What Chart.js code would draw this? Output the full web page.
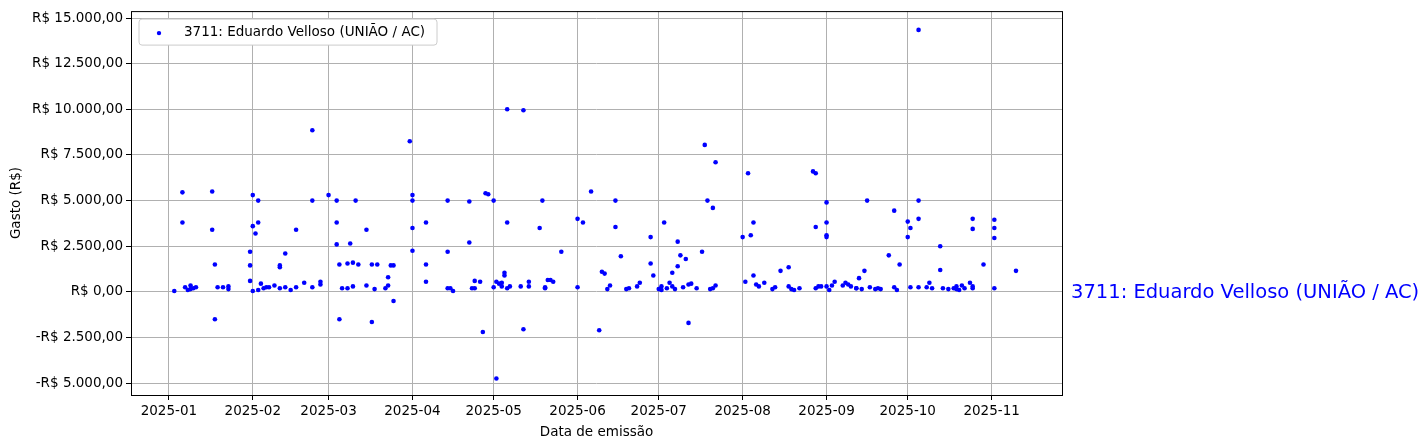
<!DOCTYPE html>
<html><head><meta charset="utf-8">
<script src="https://cdn.jsdelivr.net/npm/chart.js@4"></script>
<style>body{margin:0;background:#fff}</style></head>
<body><canvas id="c" width="1428" height="448"></canvas>
<script>
const seriesName = "3711: Eduardo Velloso (UNIÃO / AC)";
const dates = ["2025-01-03","2025-01-06","2025-01-06","2025-01-07","2025-01-08","2025-01-09","2025-01-09","2025-01-10","2025-01-11","2025-01-17","2025-01-17","2025-01-18","2025-01-18","2025-01-19","2025-01-21","2025-01-23","2025-01-23",
"2025-01-31","2025-01-31","2025-01-31","2025-02-01","2025-02-01","2025-02-01","2025-02-02","2025-02-03","2025-02-03","2025-02-03","2025-02-04","2025-02-05","2025-02-06","2025-02-07","2025-02-09","2025-02-11","2025-02-11","2025-02-11","2025-02-13","2025-02-13","2025-02-15","2025-02-17","2025-02-17","2025-02-20","2025-02-23","2025-02-23","2025-02-23","2025-02-26","2025-02-26","2025-03-01",
"2025-03-04","2025-03-04","2025-03-04","2025-03-05","2025-03-05","2025-03-06","2025-03-08","2025-03-08","2025-03-09","2025-03-10","2025-03-10","2025-03-11","2025-03-12","2025-03-15","2025-03-15","2025-03-17","2025-03-17","2025-03-18","2025-03-19","2025-03-22","2025-03-23","2025-03-23","2025-03-24","2025-03-25","2025-03-25","2025-03-31","2025-04-01","2025-04-01","2025-04-01","2025-04-01",
"2025-04-06","2025-04-06","2025-04-06","2025-04-14","2025-04-14","2025-04-14","2025-04-15","2025-04-16","2025-04-22","2025-04-22","2025-04-23","2025-04-24","2025-04-24","2025-04-26","2025-04-27","2025-04-28","2025-04-29","2025-05-02",
"2025-05-01","2025-05-01","2025-05-02","2025-05-03","2025-05-04","2025-05-04","2025-05-05","2025-05-05","2025-05-06","2025-05-06","2025-05-06","2025-05-07","2025-05-11","2025-05-12","2025-05-12","2025-05-14","2025-05-14","2025-05-18","2025-05-19","2025-05-20","2025-05-20","2025-05-21","2025-05-22","2025-05-23","2025-05-26",
"2025-06-01","2025-06-01","2025-06-03","2025-06-06","2025-06-09","2025-06-10","2025-06-11","2025-06-12","2025-06-13","2025-06-15","2025-06-15","2025-06-17","2025-06-19","2025-06-20","2025-06-23","2025-06-24","2025-06-28","2025-06-28","2025-06-29",
"2025-07-01","2025-07-02","2025-07-02","2025-07-03","2025-07-04","2025-07-05","2025-07-06","2025-07-06","2025-07-07","2025-07-08","2025-07-08","2025-07-09","2025-07-10","2025-07-11","2025-07-12","2025-07-12","2025-07-13","2025-07-15","2025-07-17","2025-07-18","2025-07-19","2025-07-20","2025-07-21","2025-07-22","2025-07-21","2025-07-22",
"2025-08-01","2025-08-02","2025-08-03","2025-08-04","2025-08-05","2025-08-05","2025-08-06","2025-08-07","2025-08-09","2025-08-12","2025-08-13","2025-08-15","2025-08-18","2025-08-18","2025-08-19","2025-08-20","2025-08-22","2025-08-27","2025-08-28","2025-08-28","2025-08-28","2025-08-29","2025-08-30","2025-09-01","2025-09-01","2025-09-01","2025-09-01","2025-09-01","2025-09-02",
"2025-09-03","2025-09-04","2025-09-07","2025-09-08","2025-09-09","2025-09-10","2025-09-12","2025-09-12","2025-09-13","2025-09-14","2025-09-15","2025-09-16","2025-09-17","2025-09-19","2025-09-20","2025-09-21","2025-09-24","2025-09-26","2025-09-26","2025-09-27","2025-09-28","2025-10-01","2025-10-01","2025-10-02","2025-10-02",
"2025-10-05","2025-10-05","2025-10-05","2025-10-05","2025-10-08","2025-10-09","2025-10-10","2025-10-13","2025-10-13","2025-10-14","2025-10-16","2025-10-18","2025-10-19","2025-10-19","2025-10-20","2025-10-21","2025-10-22","2025-10-24","2025-10-25","2025-10-25","2025-10-25","2025-10-25","2025-10-29","2025-11-02","2025-11-02","2025-11-02","2025-11-02","2025-11-10"];
const values = [50,5450,3800,250,100,350,150,200,250,5500,3400,1500,-1500,250,250,150,300,
600,1450,2200,5300,50,3600,3200,5000,3800,100,450,200,250,250,350,200,1450,1350,2100,250,100,3400,250,500,250,8850,5000,550,400,5300,
5000,3800,2600,1500,-1500,200,200,1550,2650,1600,300,5000,1500,3400,350,1500,-1650,150,1500,200,350,800,1450,1450,-500,8250,5300,5000,3500,2250,
1500,3800,550,5000,2200,200,200,50,4950,2700,200,600,200,550,-2200,5400,5350,-4750,
250,5000,550,450,300,500,1050,900,10000,3800,200,300,300,9950,-2050,550,300,3500,5000,200,250,650,650,550,2200,
250,4000,3800,5500,-2100,1100,1000,150,350,5000,3550,1950,150,200,300,500,3000,1550,900,
150,300,100,3800,200,500,300,1050,150,2750,1400,2000,250,1800,-1700,400,450,200,2200,8050,5000,150,200,7100,4600,350,
3000,550,6500,3100,3800,900,400,300,500,150,250,1150,1350,300,150,100,200,6600,6500,3550,200,300,300,3100,3000,4900,3800,300,100,
350,550,350,500,400,300,200,200,750,150,1150,5000,250,150,200,150,2000,4450,250,100,1500,3000,3850,3500,250,
14350,5000,4000,250,250,500,200,2500,1200,200,150,200,300,150,100,350,200,500,4000,3450,300,200,1500,2950,3950,3500,200,1150];
const yTicks = [-5000,-2500,0,2500,5000,7500,10000,12500,15000];
const xTickLabels = ["2025-01","2025-02","2025-03","2025-04","2025-05","2025-06","2025-07","2025-08","2025-09","2025-10","2025-11"];

const toMs = s => { const [y,m,d]=s.split('-').map(Number); return Date.UTC(y,m-1,d); };
const pts = dates.map((d,i)=>({x:toMs(d), y:values[i]}));
const xTickMs = xTickLabels.map(l=>toMs(l+"-01"));
const fmt = v => (v<0?'-':'')+'R$ '+Math.abs(v).toLocaleString('pt-BR',{minimumFractionDigits:2,maximumFractionDigits:2});
const F = "'DejaVu Sans', sans-serif";

const extra = {
  id:'extra',
  afterDraw(ch){
    const c=ch.ctx, a=ch.chartArea;
    c.save();
    c.strokeStyle='#000'; c.lineWidth=1;
    c.strokeRect(a.left+0.5,a.top+0.5,a.right-a.left,a.bottom-a.top);
    c.fillStyle='#fff'; c.strokeStyle='#ccc';
    const lx=a.left+8, ly=a.top+8, lw=298, lh=26;
    c.beginPath(); c.roundRect(lx,ly,lw,lh,3); c.fill(); c.stroke();
    c.fillStyle='blue'; c.beginPath(); c.arc(lx+20,ly+lh/2+1,2.2,0,Math.PI*2); c.fill();
    c.fillStyle='#000'; c.font='13.5px '+F; c.textBaseline='middle';
    c.fillText(seriesName,lx+45,ly+lh/2);
    const y0=ch.scales.y.getPixelForValue(0);
    c.fillStyle='blue'; c.font='19.5px '+F;
    c.fillText(seriesName,a.right+9,y0+1);
    c.restore();
  }
};

new Chart(document.getElementById('c'),{
  type:'scatter',
  data:{datasets:[{label:seriesName,data:pts,backgroundColor:'blue',borderColor:'blue',pointRadius:2.3,borderWidth:0}]},
  options:{
    responsive:false,animation:false,
    layout:{padding:{left:0,right:366,top:8,bottom:0}},
    plugins:{legend:{display:false},tooltip:{enabled:false}},
    scales:{
      x:{type:'linear',min:toMs("2024-12-18"),max:toMs("2025-11-27"),
        afterBuildTicks(s){s.ticks=xTickMs.map(v=>({value:v}));},
        afterFit(s){s.height=53;},
        ticks:{color:'#000',font:{family:F,size:13.5},maxRotation:0,autoSkip:false,
          callback:(v)=>{const i=xTickMs.indexOf(v);return i>=0?xTickLabels[i]:'';}},
        grid:{color:'#b0b0b0',tickColor:'#000',tickLength:5},
        border:{display:false},
        title:{display:true,text:'Data de emissão',color:'#000',font:{family:F,size:13.5},padding:{top:0,bottom:7}}},
      y:{min:-5650,max:15380,
        afterBuildTicks(s){s.ticks=yTicks.map(v=>({value:v}));},
        afterFit(s){s.width=131;},
        ticks:{color:'#000',font:{family:F,size:13.5},callback:v=>fmt(v)},
        grid:{color:'#b0b0b0',tickColor:'#000',tickLength:5},
        border:{display:false},
        title:{display:true,text:'Gasto (R$)',color:'#000',font:{family:F,size:13.5},padding:{top:8,bottom:0}}}
    }
  },
  plugins:[extra]
});
</script></body></html>
